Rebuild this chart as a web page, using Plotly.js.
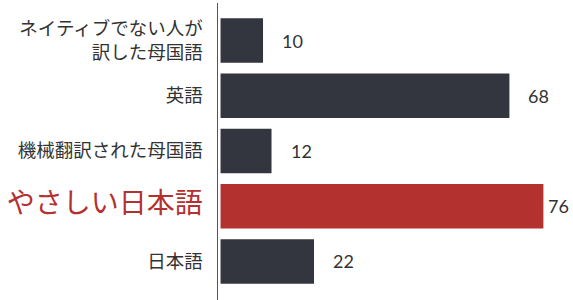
<!DOCTYPE html>
<html>
<head>
<meta charset="utf-8">
<script src="https://cdn.plot.ly/plotly-3.0.1.min.js"></script>
<style>html,body{margin:0;padding:0;background:#fff;}#chart{width:573px;height:300px;}</style>
</head>
<body>
<div id="chart"></div>
<script>
// Data (top to bottom)
const categories = ['ネイティブでない人が訳した母国語', '英語', '機械翻訳された母国語', 'やさしい日本語', '日本語'];
const tickLabels = ['ネイティブでない人が<br>訳した母国語', '英語', '機械翻訳された母国語', 'やさしい日本語', '日本語'];
const values = [10, 68, 12, 76, 22];
const highlight = 'やさしい日本語';

const DARK = '#34363f';
const RED = '#b3312f';

const colors = categories.map(c => c === highlight ? RED : DARK);
const ticktext = categories.map((c, i) => c === highlight
  ? '<span style="font-size:28px;fill:' + RED + '">' + tickLabels[i] + '</span>'
  : tickLabels[i]);

const maxV = Math.max(...values);
const annotations = categories.map((c, i) => ({
  x: values[i], y: c, xref: 'x', yref: 'y',
  text: String(values[i]), showarrow: false,
  xanchor: 'left', yanchor: 'middle',
  xshift: values[i] === maxV ? 3 : 17,
  font: {family: 'Lato, "Noto Sans", sans-serif', size: 18, color: '#333'}
}));

const trace = {
  type: 'bar', orientation: 'h',
  x: values, y: categories,
  marker: {color: colors},
  hoverinfo: 'none'
};

const layout = {
  width: 573, height: 300,
  margin: {l: 218, r: 2, t: 3, b: 0},
  paper_bgcolor: '#fff', plot_bgcolor: '#fff',
  bargap: 0.195,
  showlegend: false,
  font: {family: '"Noto Sans CJK JP", sans-serif', color: '#333'},
  xaxis: {range: [-0.6, 82.5], visible: false, showgrid: false, zeroline: false, fixedrange: true},
  yaxis: {
    type: 'category',
    range: [4.697, -0.679],
    tickvals: categories, ticktext: ticktext,
    ticks: '', ticklabelstandoff: 10,
    tickfont: {family: '"Noto Sans CJK JP", sans-serif', size: 18.5, color: '#333'},
    showline: true, linecolor: '#555', linewidth: 1.5,
    showgrid: false, zeroline: false, fixedrange: true
  },
  annotations: annotations
};

Plotly.newPlot('chart', [trace], layout, {staticPlot: true, displayModeBar: false});
</script>
</body>
</html>
